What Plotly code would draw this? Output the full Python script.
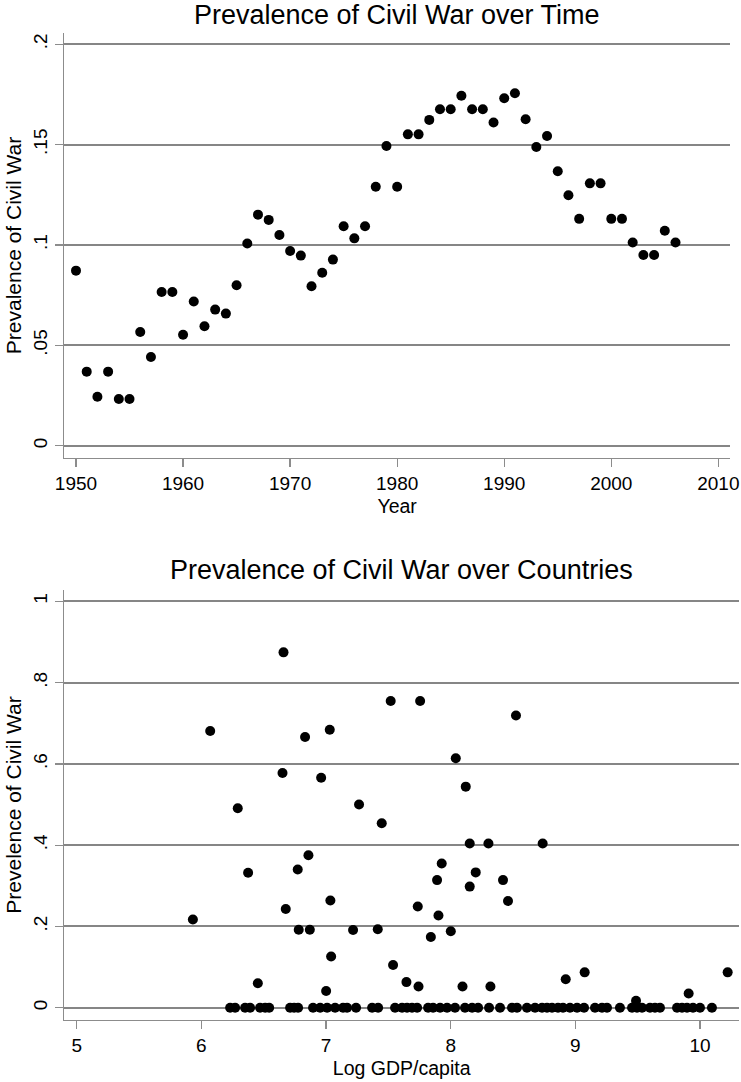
import plotly.graph_objects as go

# ---------- Data: top panel (prevalence by year) ----------
years = list(range(1950, 2007))
prev_year = [
    0.0872, 0.0369, 0.0244, 0.0369, 0.0233, 0.0233, 0.0566, 0.0442, 0.0766, 0.0766,
    0.0553, 0.0718, 0.0595, 0.0678, 0.0658, 0.0799, 0.1007, 0.1151, 0.1125, 0.1050,
    0.0970, 0.0947, 0.0794, 0.0862, 0.0927, 0.1093, 0.1033, 0.1093, 0.1290, 0.1493,
    0.1290, 0.1551, 0.1551, 0.1623, 0.1676, 0.1676, 0.1743, 0.1676, 0.1676, 0.1610,
    0.1731, 0.1756, 0.1626, 0.1488, 0.1543, 0.1367, 0.1248, 0.1130, 0.1307, 0.1307,
    0.1130, 0.1130, 0.1012, 0.0950, 0.0950, 0.1071, 0.1012,
]

# ---------- Data: bottom panel (prevalence by country log GDP) ----------
gdp_nonzero = [
    6.659, 6.071, 7.030, 6.832, 6.651, 6.961, 6.292, 7.265, 7.447, 6.859,
    6.773, 6.375, 5.932, 6.677, 7.035, 6.781, 6.870, 7.217, 7.415, 7.041,
    6.453, 7.001, 7.519, 7.755, 8.524, 8.041, 8.121, 8.153, 8.303, 8.738,
    7.928, 8.201, 7.891, 8.420, 8.153, 8.460, 7.736, 7.902, 8.001, 7.841,
    7.538, 7.645, 7.742, 8.095, 8.319, 8.923, 9.075, 10.222, 9.909, 9.487,
]
prev_nonzero = [
    0.8745, 0.681, 0.684, 0.666, 0.5775, 0.566, 0.491, 0.500, 0.454, 0.375,
    0.340, 0.332, 0.217, 0.243, 0.264, 0.192, 0.192, 0.191, 0.193, 0.126,
    0.060, 0.041, 0.755, 0.755, 0.719, 0.614, 0.544, 0.404, 0.404, 0.404,
    0.355, 0.333, 0.314, 0.314, 0.298, 0.2625, 0.249, 0.227, 0.188, 0.174,
    0.105, 0.063, 0.052, 0.052, 0.052, 0.070, 0.087, 0.087, 0.035, 0.017,
]
gdp_zero = [
    6.231, 6.271, 6.351, 6.391, 6.471, 6.512, 6.544, 6.712, 6.744, 6.776,
    6.896, 6.953, 7.009, 7.073, 7.137, 7.169, 7.241, 7.370, 7.418, 7.554,
    7.610, 7.650, 7.690, 7.731, 7.819, 7.859, 7.915, 7.971, 8.035, 8.115,
    8.172, 8.220, 8.308, 8.396, 8.492, 8.532, 8.612, 8.677, 8.733, 8.773,
    8.813, 8.861, 8.901, 8.957, 9.014, 9.070, 9.158, 9.214, 9.254, 9.358,
    9.455, 9.495, 9.535, 9.599, 9.639, 9.679, 9.816, 9.856, 9.896, 9.944,
    10.000, 10.096,
]
prev_zero = [0.0] * len(gdp_zero)

gdp = gdp_nonzero + gdp_zero
prev_country = prev_nonzero + prev_zero

# ---------- Tick labels ----------
top_x_ticks = [1950, 1960, 1970, 1980, 1990, 2000, 2010]
top_y_ticks = [0, 0.05, 0.1, 0.15, 0.2]
top_y_labels = ["0", ".05", ".1", ".15", ".2"]
bot_x_ticks = [5, 6, 7, 8, 9, 10]
bot_y_ticks = [0, 0.2, 0.4, 0.6, 0.8, 1.0]
bot_y_labels = ["0", ".2", ".4", ".6", ".8", "1"]

W, H = 741, 1082
FONT = "Liberation Sans, Arial, Helvetica, sans-serif"
GRID = "#868686"
AXIS = "#8c8c8c"

def px_x(p):
    return p / W

def px_y(p):
    return 1 - p / H

fig = go.Figure()
fig.add_trace(go.Scatter(x=years, y=prev_year, mode="markers",
                         marker=dict(color="black", size=10),
                         xaxis="x", yaxis="y", showlegend=False))
fig.add_trace(go.Scatter(x=gdp, y=prev_country, mode="markers",
                         marker=dict(color="black", size=10),
                         xaxis="x2", yaxis="y2", showlegend=False))

axis_common = dict(showline=True, linecolor=AXIS, linewidth=1.3,
                   ticks="outside", ticklen=8, tickwidth=1.3, tickcolor=AXIS,
                   tickfont=dict(family=FONT, size=19, color="black"),
                   zeroline=False, automargin=False, fixedrange=True)

fig.update_layout(
    width=W, height=H,
    margin=dict(l=0, r=0, t=0, b=0),
    paper_bgcolor="white", plot_bgcolor="white",
    font=dict(family=FONT, color="black"),
    xaxis=dict(axis_common, domain=[px_x(64.3), px_x(730)], anchor="y",
               range=[1948.907, 2011.09], tickvals=top_x_ticks, showgrid=False,
               title=dict(text="Year", font=dict(family=FONT, size=19.5), standoff=6)),
    yaxis=dict(axis_common, domain=[px_y(458), px_y(33)], anchor="x",
               range=[-0.00613, 0.2056], tickvals=top_y_ticks, ticktext=top_y_labels,
               tickangle=-90, showgrid=True, gridcolor=GRID, gridwidth=2,
               title=dict(text="Prevalence of Civil War", font=dict(family=FONT, size=21), standoff=3)),
    xaxis2=dict(axis_common, domain=[px_x(64.3), px_x(739)], anchor="y2",
                range=[4.9005, 10.313], tickvals=bot_x_ticks, showgrid=False,
                title=dict(text="Log GDP/capita", font=dict(family=FONT, size=19.5), standoff=6)),
    yaxis2=dict(axis_common, domain=[px_y(1020), px_y(590)], anchor="x2",
                range=[-0.0303, 1.028], tickvals=bot_y_ticks, ticktext=bot_y_labels,
                tickangle=-90, showgrid=True, gridcolor=GRID, gridwidth=2,
                title=dict(text="Prevelence of Civil War", font=dict(family=FONT, size=21), standoff=3)),
    annotations=[
        dict(text="Prevalence of Civil War over Time", xref="paper", yref="paper",
             x=px_x(397), y=px_y(15), xanchor="center", yanchor="middle",
             showarrow=False, font=dict(family=FONT, size=27, color="black")),
        dict(text="Prevalence of Civil War over Countries", xref="paper", yref="paper",
             x=px_x(401.6), y=px_y(570), xanchor="center", yanchor="middle",
             showarrow=False, font=dict(family=FONT, size=27, color="black")),
    ],
)

fig.write_html(
    "out.html",
    config={"displayModeBar": False, "staticPlot": True},
    post_script="document.body.style.margin='0';document.body.style.overflow='hidden';",
)
